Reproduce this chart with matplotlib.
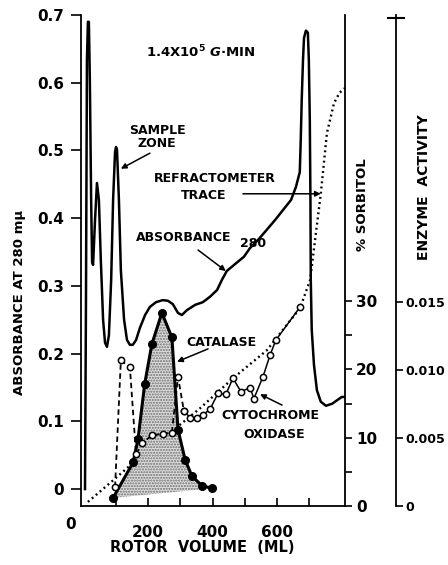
import matplotlib.pyplot as plt
from matplotlib.transforms import blended_transform_factory

plt.rcParams['font.family'] = ['DejaVu Sans']
plt.rcParams['font.weight'] = 'bold'
plt.rcParams['mathtext.fontset'] = 'dejavusans'

# absorbance at 280 (solid trace), rotor volume in mL
abs_ml = [5, 8, 11, 14, 17, 20, 24, 27, 30, 36, 42, 48, 54, 61, 67, 73, 79, 86, 92, 98,
          101, 104, 110, 116, 126, 135, 144, 153, 163, 175, 191, 206, 225, 246, 262, 277,
          293, 305, 320, 346, 370, 392, 414, 429, 444, 469, 497, 516, 541, 568, 593, 618,
          643, 658, 670, 673, 676, 680, 683, 689, 695, 698, 701, 703, 704, 707, 714, 723,
          735, 751, 770, 785, 800, 810]
abs_val = [0, 0.279, 0.634, 0.690, 0.690, 0.604, 0.427, 0.335, 0.331, 0.397, 0.452, 0.427,
           0.338, 0.250, 0.216, 0.210, 0.227, 0.309, 0.427, 0.498, 0.505, 0.501, 0.427,
           0.323, 0.250, 0.220, 0.213, 0.213, 0.220, 0.238, 0.257, 0.269, 0.276, 0.279,
           0.278, 0.273, 0.260, 0.257, 0.264, 0.272, 0.276, 0.284, 0.294, 0.309, 0.322,
           0.332, 0.343, 0.356, 0.368, 0.383, 0.397, 0.412, 0.427, 0.446, 0.468, 0.516,
           0.575, 0.634, 0.666, 0.677, 0.674, 0.634, 0.545, 0.427, 0.309, 0.235, 0.183,
           0.146, 0.129, 0.123, 0.126, 0.131, 0.136, 0.136]

# refractometer trace (% sorbitol)
ref_ml = [14, 98, 175, 299, 361, 463, 568, 671, 702, 720, 735, 754, 776, 793, 810]
ref_pct = [0.6, 4.0, 7.2, 11.9, 14.3, 18.7, 22.8, 29.0, 33.1, 40.0, 45.7, 54.6, 59.0, 60.5, 61.2]

# catalase (filled circles, shaded)
cat_ml = [92, 154, 169, 190, 212, 243, 274, 293, 315, 336, 367, 398]
cat_act = [0.0006, 0.0032, 0.0049, 0.0090, 0.0119, 0.0142, 0.0124, 0.0056, 0.0034,
           0.0022, 0.0015, 0.0013]

# cytochrome oxidase (open circles)
cyt_ml = [98, 116, 144, 163, 181, 212, 246, 274, 293, 311, 330, 352, 370, 392, 417, 441,
          463, 488, 516, 528, 556, 578, 596, 670]
cyt_act = [0.0014, 0.0107, 0.0102, 0.0038, 0.0046, 0.0052, 0.0053, 0.0054, 0.0095, 0.0070,
           0.0065, 0.0065, 0.0067, 0.0071, 0.0083, 0.0082, 0.0094, 0.0084, 0.0087, 0.0079,
           0.0095, 0.0111, 0.0122, 0.0146]

abs_ticks = [0, 0.1, 0.2, 0.3, 0.4, 0.5, 0.6, 0.7]
abs_labels = ["0", "0.1", "0.2", "0.3", "0.4", "0.5", "0.6", "0.7"]
sorb_ticks = [0, 10, 20, 30]
enz_ticks = [0, 0.005, 0.010, 0.015]
enz_labels = ["0", "0.005", "0.010", "0.015"]

W, H = 448, 565
fig = plt.figure(figsize=(W / 100, H / 100), dpi=100)
ax = fig.add_axes([81 / W, 1 - 506 / H, (345 - 81) / W, (506 - 15) / H])
ax.set_xlim(-7.4, 810)
ax.set_ylim(-0.025, 0.7)
ax2 = ax.twinx()
ax2.set_ylim(0, 71.9)
ax3 = ax.twinx()
ax3.set_ylim(0, 0.0361)

for s in ["top", "right"]:
    ax.spines[s].set_visible(False)
for s in ["top", "left", "bottom"]:
    ax2.spines[s].set_visible(False)
    ax3.spines[s].set_visible(False)
ax3.spines["right"].set_position(("axes", 315 / 264))
for a in (ax, ax2, ax3):
    for sp in a.spines.values():
        sp.set_linewidth(1.3)

# curves
ax.plot(abs_ml, abs_val, color="k", lw=1.8, solid_joinstyle="round")
ax2.plot(ref_ml, ref_pct, color="k", lw=1.7, ls=(0, (0.8, 1.4)))
ax3.fill(cat_ml, cat_act, facecolor="#dcdcdc", edgecolor="#6e6e6e", hatch="......", lw=0)
ax3.plot(cat_ml, cat_act, color="k", lw=2.2, marker="o", ms=5.5)
ax3.plot(cyt_ml[:10], cyt_act[:10], color="k", lw=1.3, ls=(0, (3, 2)),
         marker="o", ms=4.5, mfc="white", mew=1.1)
ax3.plot(cyt_ml[9:], cyt_act[9:], color="k", lw=1.1,
         marker="o", ms=4.5, mfc="white", mew=1.1)

# ticks
ax.set_yticks(abs_ticks)
ax.set_yticklabels(abs_labels)
ax.tick_params(axis="y", direction="out", length=7, width=1.2, pad=5, labelsize=11)
ax.set_xticks([200, 400, 600])
ax.set_xticks([100, 300, 500, 700], minor=True)
ax.tick_params(axis="x", which="both", direction="in", length=6, width=1.2, pad=14,
               labelsize=11)
ax.text(-41, -0.053, "0", ha="center", va="center", fontsize=11, clip_on=False)

ax2.set_yticks(sorb_ticks)
ax2.set_yticks([5, 15, 25], minor=True)
ax2.tick_params(axis="y", which="both", direction="out", length=5, width=1.2, pad=3,
                labelsize=11)

ax3.set_yticks(enz_ticks)
ax3.set_yticklabels(enz_labels)
ax3.tick_params(axis="y", direction="out", length=5, width=1.2, pad=2, labelsize=9)
tr = blended_transform_factory(ax3.transAxes, ax3.transData)
ax3.plot([315 / 264], [0.0359], marker="_", ms=13, mew=1.5, color="k",
         transform=tr, clip_on=False)

# axis titles
fig.text(20 / W, 1 - 302 / H, "ABSORBANCE AT 280 mμ", rotation=90, ha="center",
         va="center", fontsize=9.5)
fig.text(362 / W, 1 - 205 / H, "% SORBITOL", rotation=90, ha="center", va="center",
         fontsize=9.5)
fig.text(424 / W, 1 - 187 / H, "ENZYME  ACTIVITY", rotation=90, ha="center",
         va="center", fontsize=10)
fig.text(202 / W, 1 - 548 / H, "ROTOR  VOLUME  (ML)", ha="center", va="center",
         fontsize=10.5)

# annotations
arrow = dict(arrowstyle="-|>", color="k", lw=1.1, mutation_scale=8, shrinkA=0, shrinkB=0)
ax.text(362, 0.645, "1.4X10$^5$ $G$·MIN", ha="center", va="center", fontsize=9.5)
ax.text(228, 0.520, "SAMPLE\nZONE", ha="center", va="center", fontsize=9,
        linespacing=1.05)
ax.annotate("", xy=(116, 0.473), xytext=(206, 0.496), arrowprops=arrow)
ax.text(408, 0.459, "REFRACTOMETER", ha="center", va="center", fontsize=9)
ax.text(371, 0.434, "TRACE", ha="center", va="center", fontsize=9)
ax.annotate("", xy=(735, 0.436), xytext=(494, 0.436), arrowprops=arrow)
ax.text(309, 0.372, "ABSORBANCE", ha="center", va="center", fontsize=9)
ax.text(525, 0.363, "280", ha="center", va="center", fontsize=9)
ax.annotate("", xy=(441, 0.322), xytext=(355, 0.353), arrowprops=arrow)
ax.text(427, 0.217, "CATALASE", ha="center", va="center", fontsize=9)
ax.annotate("", xy=(290, 0.188), xytext=(386, 0.207), arrowprops=arrow)
ax.text(578, 0.109, "CYTOCHROME", ha="center", va="center", fontsize=9)
ax.text(590, 0.080, "OXIDASE", ha="center", va="center", fontsize=9)
ax.annotate("", xy=(547, 0.140), xytext=(615, 0.124), arrowprops=arrow)

fig.savefig("out.png", dpi=100)
